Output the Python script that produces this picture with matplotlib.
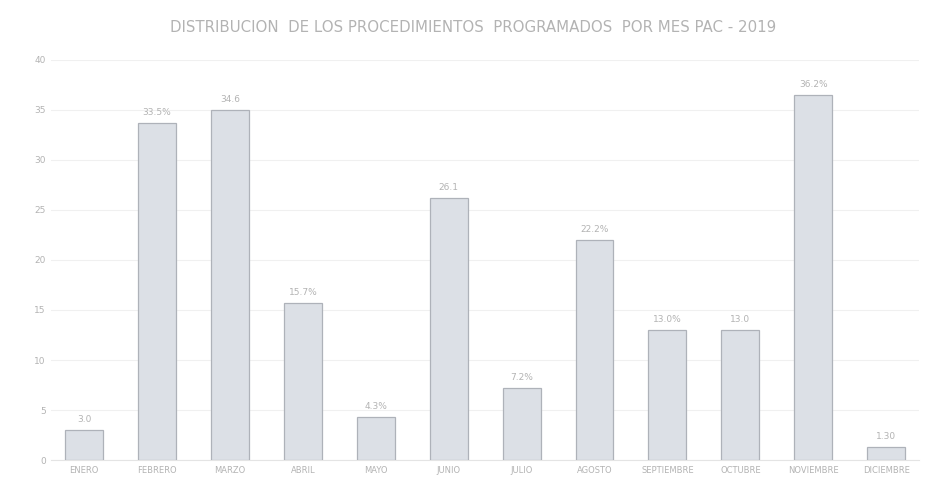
import matplotlib
matplotlib.use("Agg")
import matplotlib.pyplot as plt
import numpy as np

months = ["ENERO", "FEBRERO", "MARZO", "ABRIL", "MAYO", "JUNIO", "JULIO",
          "AGOSTO", "SEPTIEMBRE", "OCTUBRE", "NOVIEMBRE", "DICIEMBRE"]
values = [3.0, 33.7, 35.0, 15.7, 4.3, 26.2, 7.2, 22.0, 13.0, 13.0, 36.5, 1.3]
value_labels = ["3.0", "33.5%", "34.6", "15.7%", "4.3%", "26.1", "7.2%",
                "22.2%", "13.0%", "13.0", "36.2%", "1.30"]
yticks = [0, 5, 10, 15, 20, 25, 30, 35, 40]
title = "DISTRIBUCION  DE LOS PROCEDIMIENTOS  PROGRAMADOS  POR MES PAC - 2019"

text_c = "#b3b3b3"
fig = plt.figure(figsize=(9.33, 4.9), dpi=100)
ax = fig.add_axes([0.055, 0.061, 0.93, 0.817])

x = np.arange(len(months))
ax.bar(x, values, width=0.52, color="#dce0e6", edgecolor="#aeb2b9", linewidth=0.9, zorder=3)
for xi, v, lab in zip(x, values, value_labels):
    ax.text(xi, v + 0.6, lab, ha="center", va="bottom", fontsize=6.5, color=text_c)

ax.set_xlim(-0.45, len(months) - 0.55)
ax.set_ylim(0, 40)
ax.set_yticks(yticks)
ax.set_yticklabels([str(t) for t in yticks], fontsize=6.5, color=text_c)
ax.set_xticks(x)
ax.set_xticklabels(months, fontsize=6, color=text_c)
ax.tick_params(length=0, pad=4)
ax.grid(axis="y", color="#f0f0f0", linewidth=0.8, zorder=0)
for s in ["top", "right", "left"]:
    ax.spines[s].set_visible(False)
ax.spines["bottom"].set_color("#e4e4e4")

fig.text(0.507, 0.943, title, ha="center", va="center", fontsize=10.8, color=text_c)
fig.savefig("out.png", dpi=100, facecolor="white")
